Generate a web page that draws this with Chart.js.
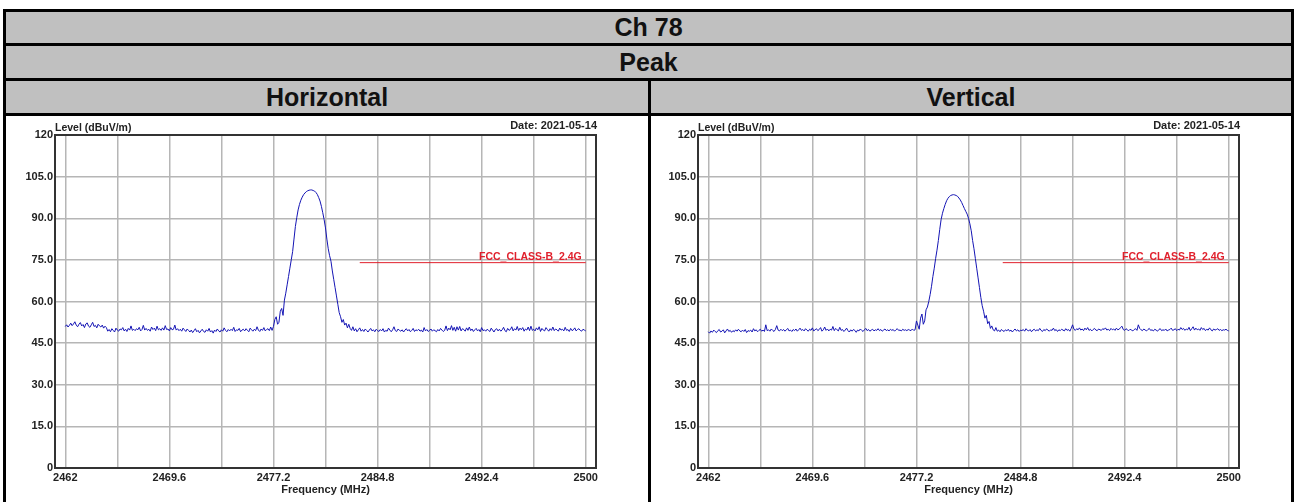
<!DOCTYPE html>
<html>
<head>
<meta charset="utf-8">
<script src="https://cdn.jsdelivr.net/npm/chart.js@4.4.1/dist/chart.umd.min.js"></script>
<style>
  body { margin: 0; background: #fff; width: 1295px; height: 502px; overflow: hidden; position: relative; font-family: "Liberation Sans", Arial, sans-serif; }
  .bar { position: absolute; background: #000; }
  .head { position: absolute; background: #c0c0c0; color: #111; font-weight: bold; font-size: 25px; display: flex; align-items: center; justify-content: center; }
  canvas { position: absolute; }
</style>
</head>
<body>
<div class="head" style="left:6px;top:12px;width:1285px;height:31px;">Ch 78</div>
<div class="head" style="left:6px;top:46px;width:1285px;height:32px;">Peak</div>
<div class="head" style="left:6px;top:81px;width:642px;height:32px;">Horizontal</div>
<div class="head" style="left:651px;top:81px;width:640px;height:32px;">Vertical</div>
<div class="bar" style="left:3px;top:9px;width:1291px;height:3px;"></div>
<div class="bar" style="left:3px;top:43px;width:1291px;height:3px;"></div>
<div class="bar" style="left:3px;top:78px;width:1291px;height:3px;"></div>
<div class="bar" style="left:3px;top:113px;width:1291px;height:3px;"></div>
<div class="bar" style="left:3px;top:9px;width:3px;height:500px;"></div>
<div class="bar" style="left:1291px;top:9px;width:3px;height:500px;"></div>
<div class="bar" style="left:648px;top:81px;width:3px;height:430px;"></div>
<canvas id="chartH" width="642" height="386" style="left:6px;top:116px;"></canvas>
<canvas id="chartV" width="640" height="386" style="left:651px;top:116px;"></canvas>
<script>
// sweep: 2462 - 2500 MHz, 0.1 MHz step
const freqStart = 2462;
const freqStep = 0.1;

// horizontal polarisation trace (dBuV/m)
const hLevels = [
  51.0, 51.6, 50.8, 51.4, 52.2, 51.3, 51.9, 52.7, 51.5, 50.9,
  51.8, 52.4, 51.2, 51.7, 50.6, 51.9, 52.3, 51.1, 50.7, 51.6,
  52.5, 51.0, 51.4, 50.5, 51.8, 51.2, 50.8, 51.5, 50.4, 51.1,
  50.6,
  49.3, 49.9, 49.1, 50.2, 49.6, 49.0, 50.4, 49.7, 49.3, 50.1,
  49.8, 50.6, 49.4, 50.0, 49.2, 50.3, 49.7, 51.2, 49.6, 50.0,
  49.5, 50.2, 49.8, 50.7, 49.4, 49.9, 51.4, 49.7, 50.3, 49.6,
  50.0, 49.3, 50.8, 49.9, 50.4, 49.5, 51.1, 49.8, 50.2, 49.6,
  50.5, 49.7, 51.3, 49.9, 50.1, 49.4, 50.6, 49.8, 50.0, 51.5,
  49.7, 50.2, 49.5, 50.0, 49.3, 50.4, 49.8, 49.2, 50.1, 49.6,
  49.0, 49.7, 48.8, 49.5, 50.2, 49.1, 49.6, 48.7, 49.4, 50.0,
  49.2, 48.9, 49.8, 49.3, 50.3, 49.0, 49.5, 48.6, 49.7, 49.2,
  50.1, 49.4, 49.0, 49.8, 49.3, 50.5, 49.6, 49.1, 49.9, 49.4,
  50.0, 49.5, 50.7, 49.2, 49.8, 49.6, 50.3, 49.1, 49.7, 50.0,
  49.4, 50.2, 49.6, 49.1, 50.4, 49.8, 49.3, 50.0, 49.5, 50.9,
  49.7, 49.2, 50.1, 49.6, 50.6, 49.4, 49.9, 50.2, 49.5, 50.8,
  49.6,
  51.0, 53.5, 54.5, 51.8, 52.5, 56.5, 57.5, 55.0,
  60.5, 63.0, 66.0, 69.0, 72.0, 75.0, 78.0, 82.5, 87.0, 90.2,
  93.0, 95.0, 96.5, 97.6, 98.5, 99.1, 99.6, 99.9, 100.1, 100.2,
  100.2, 100.0, 99.8, 99.3, 98.6, 97.5, 96.2, 94.3, 92.0, 89.5,
  86.5, 82.5, 79.0, 76.5, 74.5, 71.0, 68.0, 65.0, 62.0, 59.0,
  56.0, 54.5, 52.5, 53.5, 51.5, 52.2, 50.5,
  51.8, 50.3, 49.6, 50.9, 49.4, 50.2, 49.1, 49.8, 50.5, 49.3,
  49.9, 49.2, 50.1, 49.6, 49.0, 49.7, 50.3, 49.4, 49.8, 49.1,
  50.0, 49.5, 49.2, 49.9, 49.4, 50.2, 49.0, 49.6, 49.3, 50.4,
  49.7, 49.1, 49.8, 50.9, 49.5, 49.2, 50.1, 49.6, 49.3, 49.8,
  49.0, 49.7, 50.2, 49.4, 49.9, 49.1, 49.6, 50.3, 49.2, 49.8,
  49.5, 50.0, 49.3, 49.7, 49.0, 50.6, 49.4, 49.9, 49.2, 49.6,
  50.1, 49.3, 49.8, 49.5, 49.1, 49.9, 49.4, 50.3, 49.7, 49.2,
  49.6, 51.2, 49.5, 50.4, 49.8, 51.3, 49.6, 50.7, 49.3, 50.9,
  49.7, 51.0, 49.4, 50.2, 49.9, 49.3, 50.5, 49.6, 50.8, 49.5,
  50.1, 49.2, 49.8, 50.3, 49.4, 49.9, 49.1, 50.6, 49.5, 49.8,
  49.3, 50.0, 49.6, 49.2, 50.4, 49.7, 49.0, 49.9, 50.2, 49.4,
  50.0, 49.3, 49.8, 50.7, 49.5, 49.1, 50.3, 49.6, 49.9, 50.9,
  49.4, 50.2, 49.7, 51.0, 49.5, 50.4, 49.8, 50.6, 49.3, 50.1,
  49.7, 50.8, 49.5, 51.1, 49.6, 50.0, 49.4, 50.5, 49.8, 50.9,
  49.2, 50.3, 49.7, 49.4, 50.6, 49.9, 49.3, 50.2, 49.6, 50.8,
  49.5, 50.1, 49.8, 49.3, 50.4, 49.7, 50.0, 49.4, 50.7, 49.6,
  49.9, 49.2, 50.3, 49.5, 49.8, 50.5, 49.4, 49.9, 50.2, 49.6,
  49.3, 50.0, 49.7, 49.4
];

// vertical polarisation trace (dBuV/m)
const vLevels = [
  49.1, 48.6, 49.4, 48.9, 49.7, 49.2, 48.8, 49.5, 49.9, 49.0,
  49.3, 49.8, 48.7, 49.4, 50.1, 49.2, 49.6, 48.9, 49.5, 49.1,
  49.8, 49.3, 50.0, 49.4, 49.1, 49.7, 49.2, 49.9, 48.8, 49.5,
  49.3, 49.7, 49.0, 50.2, 49.4, 49.8, 49.1, 49.6, 50.0, 49.3,
  49.7, 49.2, 51.6, 49.5, 49.8, 49.3, 50.1, 49.6, 49.2, 49.9,
  51.3, 49.7, 49.4, 50.0, 49.5, 49.9, 49.3, 49.8, 50.3, 49.4,
  49.7, 49.2, 49.9, 49.5, 50.1, 49.3, 49.8, 50.4, 49.6, 49.9,
  49.4, 50.2, 49.7, 49.3, 50.0, 49.6, 50.5, 49.4, 49.8, 50.2,
  49.5, 49.9, 50.6, 49.3, 49.8, 50.8, 49.6, 50.1, 49.4, 50.0,
  49.7, 51.0, 49.5, 50.3, 49.8, 49.4, 50.7, 49.6, 49.9, 49.2,
  49.7, 50.4, 49.5, 49.0, 49.8, 49.3, 49.9, 49.6, 48.9, 49.7,
  49.4, 50.1, 49.6, 49.2, 49.8, 50.3, 49.5, 49.9, 49.3, 49.7,
  50.0, 49.4, 49.8, 49.6, 50.2, 49.5, 49.9, 49.3, 49.7, 50.1,
  49.5, 49.8, 49.4, 50.0, 49.6, 49.9, 49.3, 49.8, 50.2, 49.6,
  49.7, 49.4, 50.0, 49.6, 49.8, 49.5, 49.9, 49.7, 49.5, 50.1,
  49.6, 49.8,
  53.0, 51.5, 50.0, 54.0, 55.5, 51.8, 53.0, 57.0,
  58.0, 60.0, 62.5, 65.5, 69.0, 72.0, 75.5, 78.5, 82.0, 86.0,
  89.5, 91.8, 93.5, 95.0, 96.3, 97.2, 97.8, 98.2, 98.4, 98.5,
  98.4, 98.2, 97.9, 97.3, 96.6, 95.7, 94.6, 93.5, 92.5, 91.5,
  90.0, 88.0, 85.5, 82.0, 79.0, 75.5, 72.0, 68.5, 65.0, 61.5,
  58.5, 56.5, 54.0, 55.0, 52.0, 52.8, 50.3,
  51.2, 49.8, 49.4, 50.6, 49.3, 49.7, 49.1, 49.9, 49.5, 49.2,
  49.8, 49.4, 50.0, 49.3, 49.7, 49.0, 49.6, 50.1, 49.4, 49.8,
  49.2, 49.7, 49.5, 49.9, 49.3, 50.2, 49.6, 49.4, 49.9, 49.1,
  49.7, 50.0, 49.4, 49.8, 49.5, 50.3, 49.6, 49.2, 49.9, 49.5,
  50.1, 49.7, 49.3, 49.8, 49.6, 50.4, 49.5, 49.9, 49.2, 49.8,
  49.5, 50.0, 49.7, 49.4, 50.2, 49.6, 49.9, 49.3, 50.3, 51.6,
  50.0, 49.6, 50.2, 49.8, 50.5, 49.7, 50.1, 49.5, 50.4, 49.8,
  50.6, 49.6, 50.0, 49.4, 49.9, 50.3, 49.7, 49.5, 50.1, 49.8,
  49.6, 50.2, 49.9, 50.5, 49.7, 50.0, 49.5, 50.3, 49.8, 50.1,
  49.6, 50.4, 49.8, 50.0, 50.6, 51.1, 49.9, 49.6, 50.2, 49.8,
  49.5, 50.0, 49.7, 49.4, 49.9, 50.2, 49.6, 51.6, 50.3, 49.8,
  49.5, 50.1, 49.7, 49.4, 49.9, 50.3, 49.6, 49.8, 49.4, 50.0,
  49.7, 49.3, 49.9, 50.2, 49.5, 49.8, 49.6, 50.1, 49.4, 49.7,
  49.9, 50.4, 49.6, 49.8, 50.2, 49.5, 50.0, 49.7, 50.6, 49.9,
  50.3, 49.6, 50.1, 49.8, 50.7, 49.5, 50.2, 50.9, 49.7, 50.4,
  49.8, 50.1, 49.6, 50.6, 49.9, 50.3, 49.5, 50.0, 49.7, 50.5,
  49.8, 49.4, 50.1, 49.7, 49.9, 50.2, 49.6, 49.9, 49.5, 49.8,
  49.7, 50.0, 49.6, 49.4
];

// FCC limit line (restricted band edge)
const limitFreqs = [2483.5, 2500];
const limitLevels = [74, 74];
const limitName = "FCC_CLASS-B_2.4G";

const xTickValues = [2462, 2465.8, 2469.6, 2473.4, 2477.2, 2481, 2484.8, 2488.6, 2492.4, 2496.2, 2500];
const xTickLabels = ["2462", "", "2469.6", "", "2477.2", "", "2484.8", "", "2492.4", "", "2500"];
const yTickLabels = ["0", "15.0", "30.0", "45.0", "60.0", "75.0", "90.0", "105.0", "120"];

const yTitle = "Level (dBuV/m)";
const dateText = "Date: 2021-05-14";
const xTitle = "Frequency (MHz)";

const FONT = "'Liberation Sans', Arial, sans-serif";

// frame, header texts and limit label
const decorPlugin = {
    id: "decor",
    beforeDatasetsDraw(chart) {
        const {ctx, chartArea} = chart;
        ctx.save();
        ctx.strokeStyle = "#333";
        ctx.lineWidth = 2;
        ctx.strokeRect(chartArea.left, chartArea.top, chartArea.right - chartArea.left, chartArea.bottom - chartArea.top);
        ctx.restore();
    },
    afterDraw(chart) {
        const {ctx, chartArea, scales} = chart;
        ctx.save();
        ctx.fillStyle = "#222";
        ctx.textBaseline = "middle";
        ctx.font = "bold 10.5px " + FONT;
        ctx.textAlign = "left";
        ctx.fillText(yTitle, chartArea.left, chartArea.top - 7);
        ctx.font = "bold 11px " + FONT;
        ctx.textAlign = "right";
        ctx.fillText(dateText, chartArea.right + 1, chartArea.top - 9);

        ctx.fillStyle = "#e0202c";
        ctx.font = "bold 10.5px " + FONT;
        ctx.textBaseline = "alphabetic";
        ctx.fillText(limitName, scales.x.getPixelForValue(limitFreqs[1]) - 4, scales.y.getPixelForValue(limitLevels[1]) - 3);
        ctx.restore();
    }
};

function createSpectrumChart(canvasId, levels, yAxisWidth) {
    const canvas = document.getElementById(canvasId);
    const trace = levels.map((v, i) => ({x: freqStart + i * freqStep, y: v}));
    const limit = limitFreqs.map((f, i) => ({x: f, y: limitLevels[i]}));

    new Chart(canvas, {
        type: "line",
        data: {
            datasets: [
                {
                    data: limit,
                    borderColor: "#e0202c",
                    borderWidth: 1,
                    pointRadius: 0,
                },
                {
                    data: trace,
                    borderColor: "#1414b4",
                    borderWidth: 1,
                    pointRadius: 0,
                    tension: 0,
                },
            ],
        },
        options: {
            responsive: false,
            animation: false,
            layout: {padding: {left: 0, right: 52, top: 19, bottom: 0}},
            plugins: {
                legend: {display: false},
                tooltip: {enabled: false},
            },
            scales: {
                x: {
                    type: "linear",
                    min: 2461.25,
                    max: 2500.75,
                    afterBuildTicks: (scale) => {
                        scale.ticks = xTickValues.map((v) => ({value: v}));
                    },
                    afterFit: (scale) => {
                        scale.height = 34;
                    },
                    grid: {color: "#b6b6b6", lineWidth: 1.5, drawTicks: false},
                    border: {display: false},
                    ticks: {
                        autoSkip: false,
                        maxRotation: 0,
                        padding: 3,
                        color: "#222",
                        font: {family: FONT, size: 11, weight: "bold"},
                        callback: (value, index) => xTickLabels[index],
                    },
                    title: {
                        display: true,
                        text: xTitle,
                        color: "#222",
                        font: {family: FONT, size: 11, weight: "bold"},
                        padding: {top: 0, bottom: 5},
                    },
                },
                y: {
                    min: 0,
                    max: 120,
                    afterFit: (scale) => {
                        scale.width = yAxisWidth;
                    },
                    grid: {color: "#b6b6b6", lineWidth: 1.5, drawTicks: false},
                    border: {display: false},
                    ticks: {
                        stepSize: 15,
                        padding: 2,
                        color: "#222",
                        font: {family: FONT, size: 11, weight: "bold"},
                        callback: (value, index) => yTickLabels[index],
                    },
                },
            },
        },
        plugins: [decorPlugin],
    });
}

createSpectrumChart("chartH", hLevels, 49);
createSpectrumChart("chartV", vLevels, 47);
</script>
</body>
</html>
